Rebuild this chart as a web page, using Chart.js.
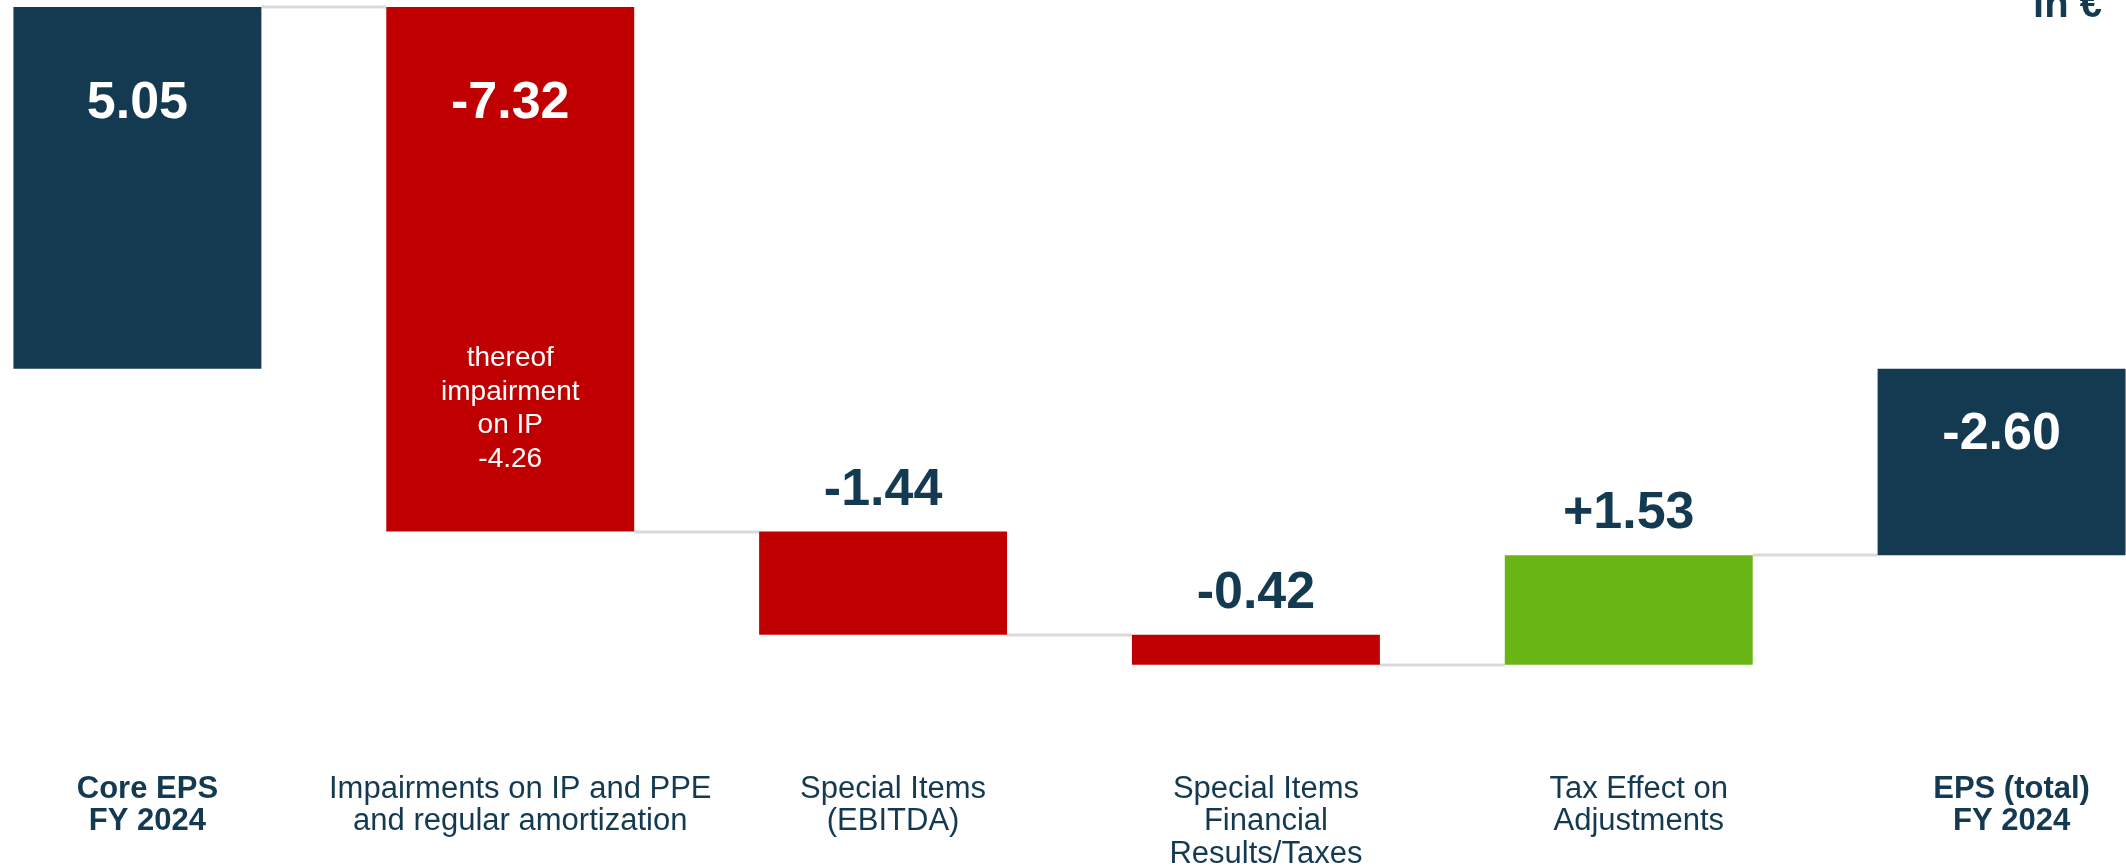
<!DOCTYPE html>
<html>
<head>
<meta charset="utf-8">
<script src="https://cdn.jsdelivr.net/npm/chart.js@4.4.1/dist/chart.umd.min.js"></script>
<style>
  html, body { margin: 0; padding: 0; background: #fff; overflow: hidden; }
  #wrap { position: absolute; left: -49px; top: 0; width: 2237px; height: 868px; }
</style>
</head>
<body>
<div id="wrap"><canvas id="bridge"></canvas></div>
<script>
const NAVY = '#133a51';
const RED = '#c00000';
const GREEN = '#69b516';
const LINK = '#d9d9d9';
const FONT = '"Liberation Sans", Arial, sans-serif';

const categories = [
  ['Core EPS', 'FY 2024'],
  ['Impairments on IP and PPE', 'and regular amortization'],
  ['Special Items', '(EBITDA)'],
  ['Special Items', 'Financial', 'Results/Taxes'],
  ['Tax Effect on', 'Adjustments'],
  ['EPS (total)', 'FY 2024'],
];
const amounts = [5.05, -7.32, -1.44, -0.42, 1.53, -2.60];
const kinds = ['total', 'step', 'step', 'step', 'step', 'total'];
const impairmentNote = ['thereof', 'impairment', 'on IP'];
const impairmentIP = -4.26;

// floating ranges [from, to] for the bridge
const ranges = [];
const levels = [];
let running = 0;
amounts.forEach((v, i) => {
  if (kinds[i] === 'total') {
    ranges.push([0, v]);
    running = v;
  } else {
    ranges.push([running, running + v]);
    running += v;
  }
  levels.push(running);
});

const colors = amounts.map((v, i) => kinds[i] === 'total' ? NAVY : (v < 0 ? RED : GREEN));

function fmt(v, i) {
  const s = Math.abs(v).toFixed(2);
  if (v < 0) return '-' + s;
  return kinds[i] === 'total' ? s : '+' + s;
}

// grey connectors between neighbouring bars
const connectors = {
  id: 'connectors',
  beforeDatasetsDraw(chart) {
    const { ctx, scales: { y } } = chart;
    const bars = chart.getDatasetMeta(0).data;
    ctx.save();
    ctx.strokeStyle = LINK;
    ctx.lineWidth = 3;
    for (let i = 0; i < bars.length - 1; i++) {
      const py = Math.round(y.getPixelForValue(levels[i]));
      ctx.beginPath();
      ctx.moveTo(bars[i].x + bars[i].width / 2, py);
      ctx.lineTo(bars[i + 1].x - bars[i + 1].width / 2, py);
      ctx.stroke();
    }
    ctx.restore();
  },
};

// value labels, the note inside the impairment bar and the unit
const valueLabels = {
  id: 'valueLabels',
  afterDatasetsDraw(chart) {
    const { ctx, scales: { y } } = chart;
    const bars = chart.getDatasetMeta(0).data;
    ctx.save();
    ctx.textAlign = 'center';
    ctx.textBaseline = 'alphabetic';
    bars.forEach((bar, i) => {
      const top = Math.min(y.getPixelForValue(ranges[i][0]), y.getPixelForValue(ranges[i][1]));
      const bottom = Math.max(y.getPixelForValue(ranges[i][0]), y.getPixelForValue(ranges[i][1]));
      const h = bottom - top;
      ctx.font = `bold 52px ${FONT}`;
      if (Math.abs(amounts[i]) >= 2) {
        ctx.fillStyle = '#fff';
        ctx.fillText(fmt(amounts[i], i), bar.x, top + Math.min(92, h * 0.33) + 19);
      } else {
        ctx.fillStyle = NAVY;
        ctx.fillText(fmt(amounts[i], i), bar.x, top - 27);
      }
    });

    const b = bars[1];
    const bottom = y.getPixelForValue(ranges[1][1]);
    const lines = [...impairmentNote, impairmentIP.toFixed(2)];
    ctx.font = `28px ${FONT}`;
    ctx.fillStyle = '#fff';
    lines.forEach((t, k) => {
      ctx.fillText(t, b.x, bottom - 65 - (lines.length - 1 - k) * 33.5);
    });

    ctx.font = `bold 40px ${FONT}`;
    ctx.fillStyle = NAVY;
    ctx.textAlign = 'right';
    ctx.fillText('in €', chart.width - 86, 17);
    ctx.restore();
  },
};

new Chart(document.getElementById('bridge'), {
  type: 'bar',
  data: {
    labels: categories,
    datasets: [{
      data: ranges,
      backgroundColor: colors,
      borderWidth: 0,
      categoryPercentage: 1,
      barPercentage: 0.665,
    }],
  },
  options: {
    responsive: true,
    maintainAspectRatio: false,
    animation: false,
    layout: { padding: { top: 7, left: 0, right: 0, bottom: 0 } },
    plugins: { legend: { display: false }, tooltip: { enabled: false } },
    scales: {
      y: { display: false, min: -4.9, max: 5.05 },
      x: {
        grid: { display: false },
        border: { display: false },
        afterFit(axis) { axis.height = 148; },
        ticks: {
          color: NAVY,
          padding: 45,
          labelOffset: 10,
          maxRotation: 0,
          autoSkip: false,
          font: (c) => ({
            family: FONT,
            size: 31,
            lineHeight: 1.05,
            weight: (c.index === 0 || c.index === 5) ? 'bold' : 'normal',
          }),
        },
      },
    },
  },
  plugins: [connectors, valueLabels],
});
</script>
</body>
</html>
